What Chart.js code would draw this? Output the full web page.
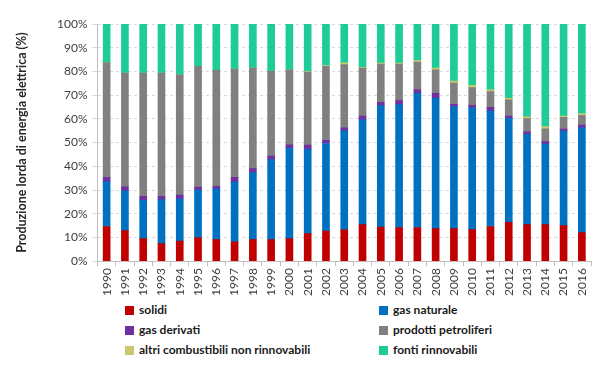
<!DOCTYPE html>
<html>
<head>
<meta charset="utf-8">
<script src="https://cdn.jsdelivr.net/npm/chart.js@4/dist/chart.umd.min.js"></script>
<style>
  body { margin: 0; background: #fff; font-family: Lato, sans-serif; }
  #wrap { position: relative; width: 615px; height: 298px; }
  #legend { position: absolute; left: 0; top: 302px; width: 615px; }
  .item { position: absolute; font-size: 12px; font-weight: bold; color: #1a1a1a; white-space: nowrap; }
  .box { display: inline-block; width: 9px; height: 9px; margin-right: 5px; vertical-align: -1px; }
</style>
</head>
<body>
<div id="wrap"><canvas id="chart"></canvas></div>
<div id="legend"></div>
<script>
const years = ["1990","1991","1992","1993","1994","1995","1996","1997","1998","1999","2000","2001","2002","2003",
  "2004","2005","2006","2007","2008","2009","2010","2011","2012","2013","2014","2015","2016"];

const solidi =      [14.6,12.9,9.5,7.4,8.5,9.8,9.1,8.2,9.1,9.1,9.5,11.6,12.7,13.2,15.4,14.4,14.2,14.2,13.7,13.7,13.3,14.6,16.4,15.4,15.4,15.0,12.0];
const gasNaturale = [18.8,16.8,16.1,18.5,17.7,20.2,21.4,25.1,28.2,33.7,38.2,35.6,36.9,41.8,44.2,51.2,51.8,56.6,55.0,51.5,51.3,48.7,43.8,38.1,34.0,39.8,44.2];
const gasDerivati = [2.0,1.6,1.7,1.4,1.7,1.2,1.1,2.0,1.7,1.5,1.3,1.7,1.4,1.2,1.6,1.4,1.7,1.4,2.1,0.9,1.1,1.6,1.0,1.0,1.0,0.9,1.2];
const petroliferi = [48.2,48.0,52.0,52.0,50.7,51.0,48.9,45.7,42.4,35.7,31.7,30.8,31.2,26.7,20.2,16.1,15.4,11.7,9.9,9.0,7.5,6.6,6.8,5.6,5.4,4.9,4.1];
const altri =       [0,0,0,0,0,0,0,0,0,0,0,0.3,0.3,0.7,0.3,0.4,0.4,0.7,0.7,0.8,0.9,0.7,0.7,0.8,0.9,0.6,0.7];
const rinnovabili = [16.4,20.7,20.7,20.7,21.4,17.8,19.5,19.0,18.6,20.0,19.3,20.0,17.5,16.4,18.3,16.5,16.5,15.4,18.6,24.1,25.9,27.8,31.3,39.1,43.3,38.8,37.8];

const yTicks = [0,10,20,30,40,50,60,70,80,90,100];

const series = [
  { label: "solidi", data: solidi, color: "#C00000" },
  { label: "gas naturale", data: gasNaturale, color: "#0070C0" },
  { label: "gas derivati", data: gasDerivati, color: "#7030A0" },
  { label: "prodotti petroliferi", data: petroliferi, color: "#808080" },
  { label: "altri combustibili non rinnovabili", data: altri, color: "#C9C86E" },
  { label: "fonti rinnovabili", data: rinnovabili, color: "#1FCC98" }
];

const ctx = document.getElementById("chart").getContext("2d");
new Chart(ctx, {
  type: "bar",
  data: {
    labels: years,
    datasets: series.map(s => ({
      label: s.label,
      data: s.data,
      backgroundColor: s.color,
      borderWidth: 0,
      barThickness: 7
    }))
  },
  options: {
    responsive: true,
    maintainAspectRatio: false,
    animation: false,
    layout: { padding: { left: 12, right: 24, top: 24, bottom: 0 } },
    plugins: { legend: { display: false }, tooltip: { enabled: false } },
    scales: {
      x: {
        stacked: true,
        grid: { display: true, drawOnChartArea: false, drawTicks: true, tickLength: 5, color: "#bfbfbf", offset: true },
        border: { color: "#bfbfbf" },
        ticks: { minRotation: 90, maxRotation: 90, color: "#404040", font: { family: "Lato", size: 12 }, padding: 2 }
      },
      y: {
        stacked: true,
        min: 0,
        max: 100,
        afterBuildTicks: axis => { axis.ticks = yTicks.map(v => ({ value: v })); },
        grid: { color: "#d9d9d9", tickLength: 5 },
        border: { color: "#bfbfbf", dash: [3, 3] },
        ticks: { color: "#404040", font: { family: "Lato", size: 12 }, callback: v => v + "%", padding: 5 },
        title: { display: true, text: "Produzione lorda di energia elettrica (%)", color: "#262626",
                 font: { family: "Lato", size: 12.5, weight: "bold" }, padding: { top: 2, bottom: 23 } }
      }
    }
  }
});

// two-column legend below the chart
const legend = document.getElementById("legend");
series.forEach((s, i) => {
  const el = document.createElement("div");
  el.className = "item";
  el.style.left = (i % 2 === 0 ? 125 : 379) + "px";
  el.style.top = (Math.floor(i / 2) * 20) + "px";
  el.innerHTML = '<span class="box" style="background:' + s.color + '"></span>' + s.label;
  legend.appendChild(el);
});
</script>
</body>
</html>
